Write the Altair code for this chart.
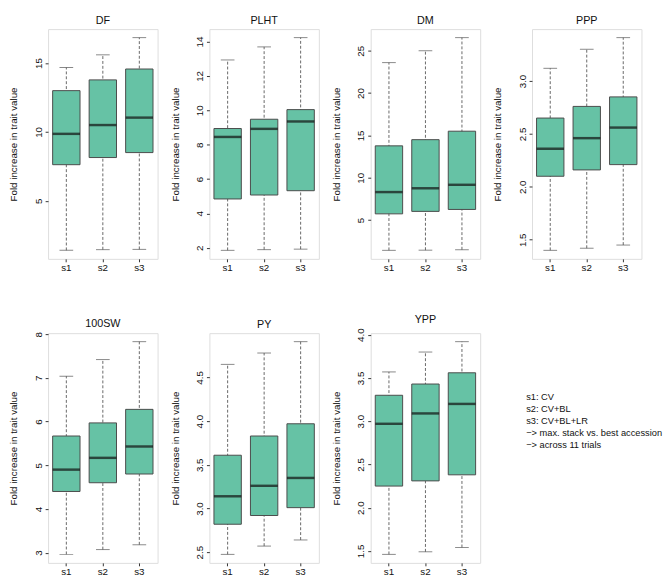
import altair as alt
import pandas as pd

traits = ["DF", "PLHT", "DM", "PPP", "100SW", "PY", "YPP"]
scenarios = ["s1", "s2", "s3"]

# whisker low, Q1, median, Q3, whisker high (per trait, per scenario)
lo = [[1.40, 1.45, 1.47], [1.85, 1.89, 1.92], [1.43, 1.45, 1.50], [1.40, 1.42, 1.45],
      [2.96, 3.07, 3.18], [2.475, 2.57, 2.64], [1.46, 1.49, 1.54]]
q1 = [[7.62, 8.14, 8.50], [4.84, 5.07, 5.32], [5.74, 6.03, 6.26], [2.10, 2.16, 2.21],
      [4.40, 4.60, 4.80], [2.82, 2.92, 3.01], [2.25, 2.31, 2.38]]
med = [[9.86, 10.50, 11.04], [8.45, 8.92, 9.35], [8.31, 8.76, 9.17], [2.36, 2.46, 2.56],
       [4.90, 5.17, 5.43], [3.14, 3.26, 3.35], [2.97, 3.09, 3.20]]
q3 = [[13.00, 13.78, 14.57], [8.94, 9.48, 10.04], [13.77, 14.50, 15.50], [2.65, 2.76, 2.85],
      [5.67, 5.97, 6.28], [3.61, 3.83, 3.97], [3.30, 3.43, 3.56]]
hi = [[14.68, 15.60, 16.85], [12.93, 13.69, 14.23], [23.60, 25.00, 26.55], [3.12, 3.30, 3.41],
      [7.04, 7.42, 7.83], [4.65, 4.78, 4.91], [3.57, 3.80, 3.92]]

tick_values = [[5, 10, 15], [2, 4, 6, 8, 10, 12, 14], [5, 10, 15, 20, 25], [1.5, 2.0, 2.5, 3.0],
               [3, 4, 5, 6, 7, 8], [2.5, 3.0, 3.5, 4.0, 4.5], [1.5, 2.0, 2.5, 3.0, 3.5, 4.0]]
tick_formats = ["d", "d", "d", ".1f", "d", ".1f", ".1f"]

legend_lines = ["s1: CV", "s2: CV+BL", "s3: CV+BL+LR",
                "\u2212> max. stack vs. best accession", "\u2212> across 11 trials"]

FONT = "Liberation Sans"
FILL = "#66C2A5"
W, H = 112, 235
BOXW = 28


def panel(i):
    df = pd.DataFrame({
        "s": scenarios, "lo": lo[i], "q1": q1[i], "med": med[i], "q3": q3[i], "hi": hi[i]
    })
    mn, mx = min(lo[i]), max(hi[i])
    pad = 0.04 * (mx - mn)
    yscale = alt.Scale(domain=[mn - pad, mx + pad], nice=False, zero=False)
    xenc = alt.X("s:N", sort=scenarios,
                 scale=alt.Scale(paddingInner=0, paddingOuter=0),
                 axis=alt.Axis(title=None, labelAngle=0, tickSize=3, labelPadding=1,
                               domain=False, labelFontSize=10, labelColor="#111",
                               tickColor="#333", labelFont=FONT))
    yaxis = alt.Axis(values=tick_values[i], tickCount=len(tick_values[i]) + 5,
                     format=tick_formats[i], labelAngle=-90,
                     labelAlign="center", labelBaseline="bottom", labelOverlap=False,
                     tickSize=3, labelPadding=2, domain=False, grid=False,
                     labelFontSize=10, labelColor="#111", tickColor="#333",
                     labelFont=FONT, title="Fold increase in trait value",
                     titleFontSize=10, titleFontWeight="normal", titleColor="#111",
                     titleFont=FONT, titlePadding=15)
    base = alt.Chart(df)
    whisk = base.mark_rule(color="#666", strokeWidth=1, strokeDash=[3, 2]).encode(
        x=xenc, y=alt.Y("lo:Q", scale=yscale, axis=yaxis), y2="hi:Q")
    cap_lo = base.mark_tick(color="#555", size=14, thickness=1).encode(x="s:N", y="lo:Q")
    cap_hi = base.mark_tick(color="#555", size=14, thickness=1).encode(x="s:N", y="hi:Q")
    box = base.mark_bar(size=BOXW, color=FILL, stroke="#4a4a4a", strokeWidth=1).encode(
        x="s:N", y="q1:Q", y2="q3:Q")
    median = base.mark_tick(color="#111", size=BOXW, thickness=2.5).encode(x="s:N", y="med:Q")
    return alt.layer(whisk, cap_lo, cap_hi, box, median).properties(
        width=W, height=H,
        title=alt.TitleParams(traits[i], fontSize=11, fontWeight="normal", font=FONT,
                              color="#111", offset=3))


ldf = pd.DataFrame({"line": legend_lines, "order": list(range(len(legend_lines)))})
legend = alt.Chart(ldf).mark_text(align="left", baseline="middle", fontSize=9.5,
                                  font=FONT, color="#111").encode(
    x=alt.value(-6),
    y=alt.Y("order:O", axis=None, scale=alt.Scale(type="point", range=[59, 121])),
    text="line:N",
).properties(width=W, height=H, view=alt.ViewBackground(stroke="transparent"))

row1 = alt.hconcat(panel(0), panel(1), panel(2), panel(3), spacing=53, bounds="flush")
row2 = alt.hconcat(panel(4), panel(5), panel(6), legend, spacing=53, bounds="flush")
chart = alt.vconcat(row1, row2, spacing=41).configure_view(
    stroke="#333", strokeWidth=1
).configure(background="white", padding=0)

chart.save("out.html", embed_options={"renderer": "svg", "actions": False})
